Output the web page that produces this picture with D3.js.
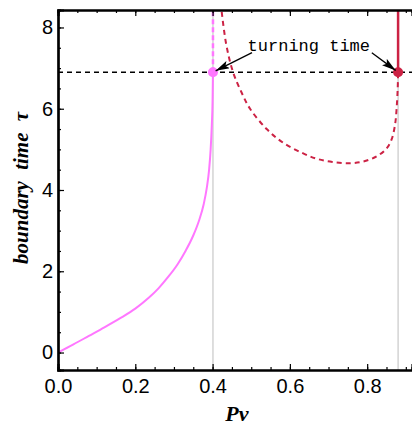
<!DOCTYPE html>
<html>
<head>
<meta charset="utf-8">
<script src="https://cdn.jsdelivr.net/npm/d3@7"></script>
<style>
  body { margin: 0; background: #fff; }
  svg { display: block; }
</style>
</head>
<body>
<div id="chart"></div>
<script>
// data: [Pv, tau]
const pinkSolid = [
  [0, 0], [0.04, 0.2], [0.08, 0.41], [0.12, 0.62], [0.16, 0.84], [0.2, 1.08],
  [0.234, 1.34], [0.26, 1.58], [0.285, 1.86], [0.31, 2.18], [0.33, 2.5],
  [0.35, 2.88], [0.365, 3.25], [0.377, 3.65], [0.385, 4.05], [0.391, 4.5],
  [0.395, 5.0], [0.398, 5.6], [0.4, 6.2], [0.401, 6.9]
];
const pinkDashed = [[0.401, 6.9], [0.401, 8.6]];
const redDashed = [
  [0.421, 8.6], [0.435, 7.6], [0.453, 6.9], [0.475, 6.4], [0.497, 6.0], [0.54, 5.5],
  [0.583, 5.16], [0.63, 4.92], [0.669, 4.77], [0.71, 4.69], [0.755, 4.66],
  [0.79, 4.7], [0.825, 4.83], [0.85, 5.02], [0.863, 5.24], [0.872, 5.6],
  [0.876, 5.98], [0.879, 6.5], [0.88, 6.9]
];
const redSolid = [[0.88, 6.9], [0.88, 8.6]];
const turningPoints = [[0.401, 6.9, "pink"], [0.88, 6.9, "red"]];
const turningTime = 6.9;
const verticals = [0.401, 0.88];
const xTicks = [0, 0.2, 0.4, 0.6, 0.8];
const yTicks = [0, 2, 4, 6, 8];
const labelText = "turning time";
const labelPos = [0.649, 7.42];
const arrowStarts = [[0.502, 7.38], [0.812, 7.38]];

const W = 412, H = 428;
const margin = {top: 10, right: 0, bottom: 58, left: 58};
const colors = {pink: "#ff77ff", red: "#cc2244"};

const svg = d3.select("#chart").append("svg")
  .attr("width", W).attr("height", H);

const x = d3.scaleLinear().domain([0, 0.916]).range([margin.left, W]);
const y = d3.scaleLinear().domain([-0.43, 8.43]).range([H - margin.bottom, margin.top]);

const defs = svg.append("defs");
defs.append("clipPath").attr("id", "clip")
  .append("rect")
  .attr("x", margin.left).attr("y", margin.top)
  .attr("width", W - margin.left).attr("height", H - margin.bottom - margin.top);

defs.append("marker")
  .attr("id", "arrow")
  .attr("viewBox", "0 0 14 8")
  .attr("refX", 14).attr("refY", 4)
  .attr("markerWidth", 14).attr("markerHeight", 8)
  .attr("markerUnits", "userSpaceOnUse")
  .attr("orient", "auto")
  .append("path").attr("d", "M0,0L14,4L0,8L3,4z").attr("fill", "#000");

const plot = svg.append("g").attr("clip-path", "url(#clip)");

// grey reference lines
plot.selectAll(".vref").data(verticals).enter().append("line")
  .attr("x1", d => x(d)).attr("x2", d => x(d))
  .attr("y1", y.range()[0]).attr("y2", y.range()[1])
  .attr("stroke", "#c8c8c8").attr("stroke-width", 1.2);

// horizontal dashed at the turning time
plot.append("line")
  .attr("x1", x(0)).attr("x2", W)
  .attr("y1", y(turningTime)).attr("y2", y(turningTime))
  .attr("stroke", "#000").attr("stroke-width", 1.5)
  .attr("stroke-dasharray", "5,4");

const lineX = d3.line().x(d => x(d[0])).y(d => y(d[1])).curve(d3.curveCatmullRom);
const lineMono = d3.line().x(d => x(d[0])).y(d => y(d[1])).curve(d3.curveMonotoneX);

plot.append("path").datum(pinkSolid)
  .attr("fill", "none").attr("stroke", colors.pink).attr("stroke-width", 2)
  .attr("d", lineMono);
plot.append("path").datum(pinkDashed)
  .attr("fill", "none").attr("stroke", colors.pink).attr("stroke-width", 2.5)
  .attr("stroke-dasharray", "5,3").attr("d", lineX);
plot.append("path").datum(redDashed)
  .attr("fill", "none").attr("stroke", colors.red).attr("stroke-width", 2)
  .attr("stroke-dasharray", "5,4").attr("d", lineX);
plot.append("path").datum(redSolid)
  .attr("fill", "none").attr("stroke", colors.red).attr("stroke-width", 2.5)
  .attr("d", lineX);

plot.selectAll(".dot").data(turningPoints).enter().append("circle")
  .attr("cx", d => x(d[0])).attr("cy", d => y(d[1])).attr("r", 5)
  .attr("fill", d => colors[d[2]]);

// annotation
svg.append("text")
  .attr("x", x(labelPos[0])).attr("y", y(labelPos[1]))
  .attr("text-anchor", "middle")
  .style("font-family", "'Liberation Mono', 'DejaVu Sans Mono', monospace")
  .style("font-size", "17px")
  .text(labelText);

arrowStarts.forEach((s, i) => {
  const t = turningPoints[i];
  const x0 = x(s[0]), y0 = y(s[1]), x1 = x(t[0]), y1 = y(t[1]);
  const len = Math.hypot(x1 - x0, y1 - y0);
  const k = (len - 3) / len;
  svg.append("line")
    .attr("x1", x0).attr("y1", y0)
    .attr("x2", x0 + (x1 - x0) * k).attr("y2", y0 + (y1 - y0) * k)
    .attr("stroke", "#000").attr("stroke-width", 1.3)
    .attr("marker-end", "url(#arrow)");
});

// axes with inward ticks
const tickFont = "'Liberation Sans', Arial, sans-serif";
const xMinor = d3.range(0, 0.92, 0.05);
const yMinor = d3.range(0, 8.5, 0.5);

const bottomAxis = svg.append("g").attr("transform", `translate(0,${y.range()[0]})`);
bottomAxis.append("g").call(d3.axisBottom(x).tickValues(xMinor).tickSize(-3).tickFormat(""));
bottomAxis.append("g").call(d3.axisBottom(x).tickValues(xTicks).tickSize(-6)
  .tickPadding(9).tickFormat(d3.format(".1f")));

const topAxis = svg.append("g").attr("transform", `translate(0,${margin.top})`);
topAxis.append("g").call(d3.axisTop(x).tickValues(xMinor).tickSize(-3).tickFormat(""));
topAxis.append("g").call(d3.axisTop(x).tickValues(xTicks).tickSize(-6).tickFormat(""));

const leftAxis = svg.append("g").attr("transform", `translate(${margin.left},0)`);
leftAxis.append("g").call(d3.axisLeft(y).tickValues(yMinor).tickSize(-3).tickFormat(""));
leftAxis.append("g").call(d3.axisLeft(y).tickValues(yTicks).tickSize(-6)
  .tickPadding(5).tickFormat(d3.format("d")));

svg.selectAll(".domain").attr("stroke-width", 2.2).attr("stroke", "#000");
svg.selectAll(".tick line").attr("stroke-width", 1.2);
svg.selectAll(".tick text").style("font-family", tickFont).style("font-size", "20px").attr("fill", "#000");

// axis titles
const titleFont = "'Liberation Serif', 'DejaVu Serif', serif";
svg.append("text")
  .attr("x", x(0.463)).attr("y", 421)
  .attr("text-anchor", "middle")
  .style("font-family", titleFont).style("font-size", "22px")
  .style("font-weight", "bold").style("font-style", "italic")
  .text("Pv");

svg.append("text")
  .attr("transform", `translate(28,${y(4.05)}) rotate(-90)`)
  .attr("text-anchor", "middle")
  .style("font-family", titleFont).style("font-size", "21px")
  .style("font-weight", "bold").style("font-style", "italic")
  .style("word-spacing", "6px")
  .text("boundary time \u03c4");
</script>
</body>
</html>
